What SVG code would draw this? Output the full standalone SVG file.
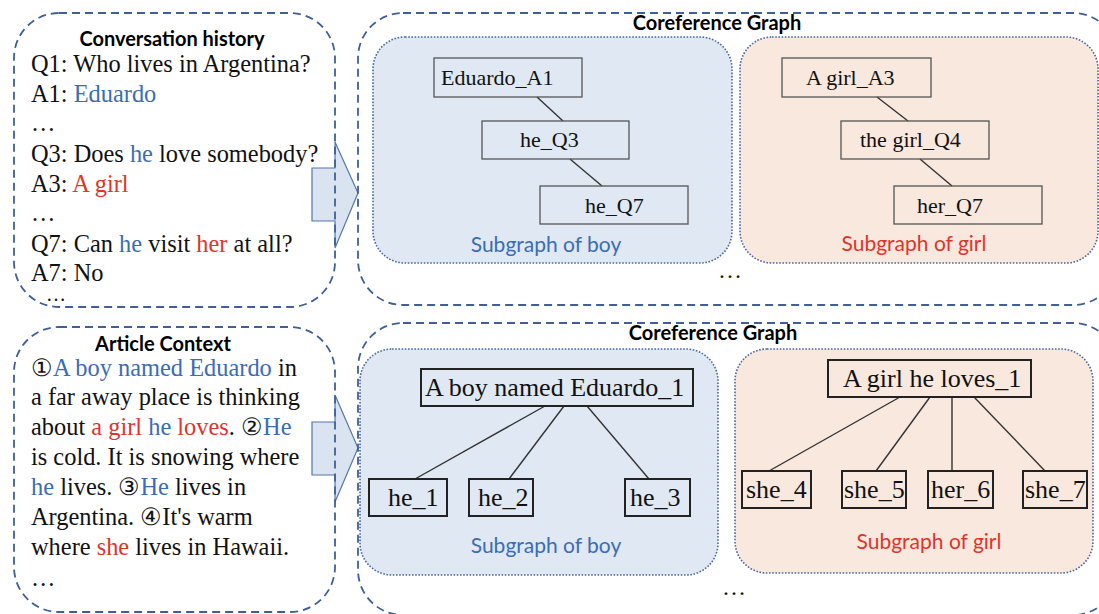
<svg xmlns="http://www.w3.org/2000/svg" width="1099" height="614" viewBox="0 0 1099 614">
<style>
.outer{fill:none;stroke:#3f5f97;stroke-width:1.8;stroke-dasharray:8 5}
.sub{stroke:#4a67a0;stroke-width:1.6;stroke-dasharray:1.6 1.6}
.boyfill{fill:#dfe8f3}
.girlfill{fill:#f8e8de}
.arrow{fill:#dae3f0;stroke:#5577aa;stroke-width:1.2}
.title{font-family:Lato,"Open Sans",sans-serif;font-weight:bold;font-size:20px;fill:#000}
.serif{font-family:"Liberation Serif","DejaVu Serif",serif;font-size:24.4px;fill:#111}
.circ{font-family:"DejaVu Serif","Liberation Serif",serif}
.b{fill:#3a6db3}
.r{fill:#e0342b}
.lbl{font-family:Lato,"Open Sans",sans-serif;font-size:21px}
.n1{fill:none;stroke:#555;stroke-width:1.3}
.n2{fill:none;stroke:#222;stroke-width:2}
.nt{font-family:"Liberation Serif",serif;font-size:22px;fill:#111}
.nt2{font-family:"Liberation Serif",serif;font-size:26px;fill:#111}
.edge{stroke:#333;stroke-width:1.4;fill:none}
.dots{font-family:"Liberation Serif",serif;font-size:24px;fill:#111}
</style>

<g id="arrows">
<path class="arrow" d="M312,168 H335 V142 L358,193 L335,248 V221 H312 Z"/>
<path class="arrow" d="M312,422 H335 V395 L358,448 L335,502 V475 H312 Z"/>
</g>

<g id="conversation-history">
<rect class="outer" x="14" y="13" width="321" height="294" rx="45"/>
<text class="title" x="172" y="46" text-anchor="middle">Conversation history</text>
<text class="serif" x="31" y="72">Q1: Who lives in Argentina?</text>
<text class="serif" x="31" y="102">A1: <tspan class="b">Eduardo</tspan></text>
<text class="serif" x="31" y="131">…</text>
<text class="serif" x="31" y="162">Q3: Does <tspan class="b">he</tspan> love somebody?</text>
<text class="serif" x="31" y="192">A3: <tspan class="r">A girl</tspan></text>
<text class="serif" x="31" y="221">…</text>
<text class="serif" x="31" y="252">Q7: Can <tspan class="b">he</tspan> visit <tspan class="r">her</tspan> at all?</text>
<text class="serif" x="31" y="281">A7: No</text>
<text class="dots" x="46" y="301" style="font-size:20px">…</text>
</g>

<g id="article-context">
<rect class="outer" x="14" y="327" width="321" height="285" rx="45"/>
<text class="title" x="163" y="351" text-anchor="middle">Article Context</text>
<text class="serif" x="31" y="376"><tspan class="circ">①</tspan><tspan class="b">A boy named Eduardo</tspan> in</text>
<text class="serif" x="31" y="405">a far away place is thinking</text>
<text class="serif" x="31" y="435">about <tspan class="r">a girl</tspan> <tspan class="b">he</tspan> <tspan class="r">loves</tspan>. <tspan class="circ">②</tspan><tspan class="b">He</tspan></text>
<text class="serif" x="31" y="465">is cold. It is snowing where</text>
<text class="serif" x="31" y="495"><tspan class="b">he</tspan> lives. <tspan class="circ">③</tspan><tspan class="b">He</tspan> lives in</text>
<text class="serif" x="31" y="525">Argentina. <tspan class="circ">④</tspan>It's warm</text>
<text class="serif" x="31" y="555">where <tspan class="r">she</tspan> lives in Hawaii.</text>
<text class="serif" x="31" y="586">…</text>
</g>

<g id="coref-graph-top">
<rect class="outer" x="358" y="13" width="760" height="292" rx="45"/>
<text class="title" x="717" y="30" text-anchor="middle">Coreference Graph</text>
<rect class="sub boyfill" x="373" y="37" width="359" height="226" rx="32"/>
<rect class="sub girlfill" x="740" y="37" width="358" height="226" rx="32"/>
<text class="lbl b" x="546" y="252" text-anchor="middle">Subgraph of boy</text>
<text class="lbl r" x="914" y="251" text-anchor="middle">Subgraph of girl</text>
<text class="dots" x="718" y="278">…</text>
</g>

<g id="coref-graph-bottom">
<rect class="outer" x="358" y="323" width="760" height="292" rx="45"/>
<text class="title" x="713" y="340" text-anchor="middle">Coreference Graph</text>
<rect class="sub boyfill" x="360" y="349" width="358" height="226" rx="32"/>
<rect class="sub girlfill" x="735" y="349" width="358" height="224" rx="32"/>
<text class="lbl b" x="546" y="553" text-anchor="middle">Subgraph of boy</text>
<text class="lbl r" x="929" y="549" text-anchor="middle">Subgraph of girl</text>
<text class="dots" x="722" y="595">…</text>
</g>

<g id="connectors">
<line class="edge" x1="537" y1="97" x2="563" y2="121"/>
<line class="edge" x1="570" y1="159" x2="602" y2="186"/>
<line class="edge" x1="877" y1="97" x2="908" y2="121"/>
<line class="edge" x1="920" y1="159" x2="952" y2="186"/>
<line class="edge" x1="545" y1="406" x2="415" y2="479"/>
<line class="edge" x1="564" y1="406" x2="509" y2="479"/>
<line class="edge" x1="587" y1="406" x2="649" y2="479"/>
<line class="edge" x1="900" y1="397" x2="769" y2="471"/>
<line class="edge" x1="930" y1="397" x2="876" y2="471"/>
<line class="edge" x1="952" y1="397" x2="952" y2="471"/>
<line class="edge" x1="974" y1="397" x2="1045" y2="471"/>
</g>

<g id="node-eduardo-a1"><rect class="n1" x="434" y="58" width="148" height="39"/><text class="nt" x="441" y="85">Eduardo_A1</text></g>
<g id="node-he-q3"><rect class="n1" x="482" y="121" width="147" height="38"/><text class="nt" x="520" y="147">he_Q3</text></g>
<g id="node-he-q7"><rect class="n1" x="540" y="186" width="148" height="38"/><text class="nt" x="585" y="213">he_Q7</text></g>
<g id="node-agirl-a3"><rect class="n1" x="782" y="58" width="149" height="39"/><text class="nt" x="806" y="85">A girl_A3</text></g>
<g id="node-thegirl-q4"><rect class="n1" x="841" y="121" width="148" height="38"/><text class="nt" x="860" y="147">the girl_Q4</text></g>
<g id="node-her-q7"><rect class="n1" x="894" y="186" width="148" height="38"/><text class="nt" x="917" y="213">her_Q7</text></g>

<g id="node-boy-1"><rect class="n2" x="421" y="369" width="272" height="37"/><text class="nt2" x="425" y="396">A boy named Eduardo_1</text></g>
<g id="node-he-1"><rect class="n2" x="369" y="479" width="78" height="37"/><text class="nt2" x="388" y="506">he_1</text></g>
<g id="node-he-2"><rect class="n2" x="469" y="479" width="64" height="37"/><text class="nt2" x="478" y="506">he_2</text></g>
<g id="node-he-3"><rect class="n2" x="625" y="479" width="65" height="37"/><text class="nt2" x="630" y="506">he_3</text></g>
<g id="node-girl-1"><rect class="n2" x="828" y="360" width="203" height="37"/><text class="nt2" x="843" y="387">A girl he loves_1</text></g>
<g id="node-she-4"><rect class="n2" x="742" y="471" width="69" height="37"/><text class="nt2" x="746" y="498">she_4</text></g>
<g id="node-she-5"><rect class="n2" x="842" y="471" width="64" height="37"/><text class="nt2" x="844" y="498">she_5</text></g>
<g id="node-her-6"><rect class="n2" x="928" y="471" width="65" height="37"/><text class="nt2" x="931" y="498">her_6</text></g>
<g id="node-she-7"><rect class="n2" x="1023" y="471" width="64" height="37"/><text class="nt2" x="1025" y="498">she_7</text></g>
</svg>
